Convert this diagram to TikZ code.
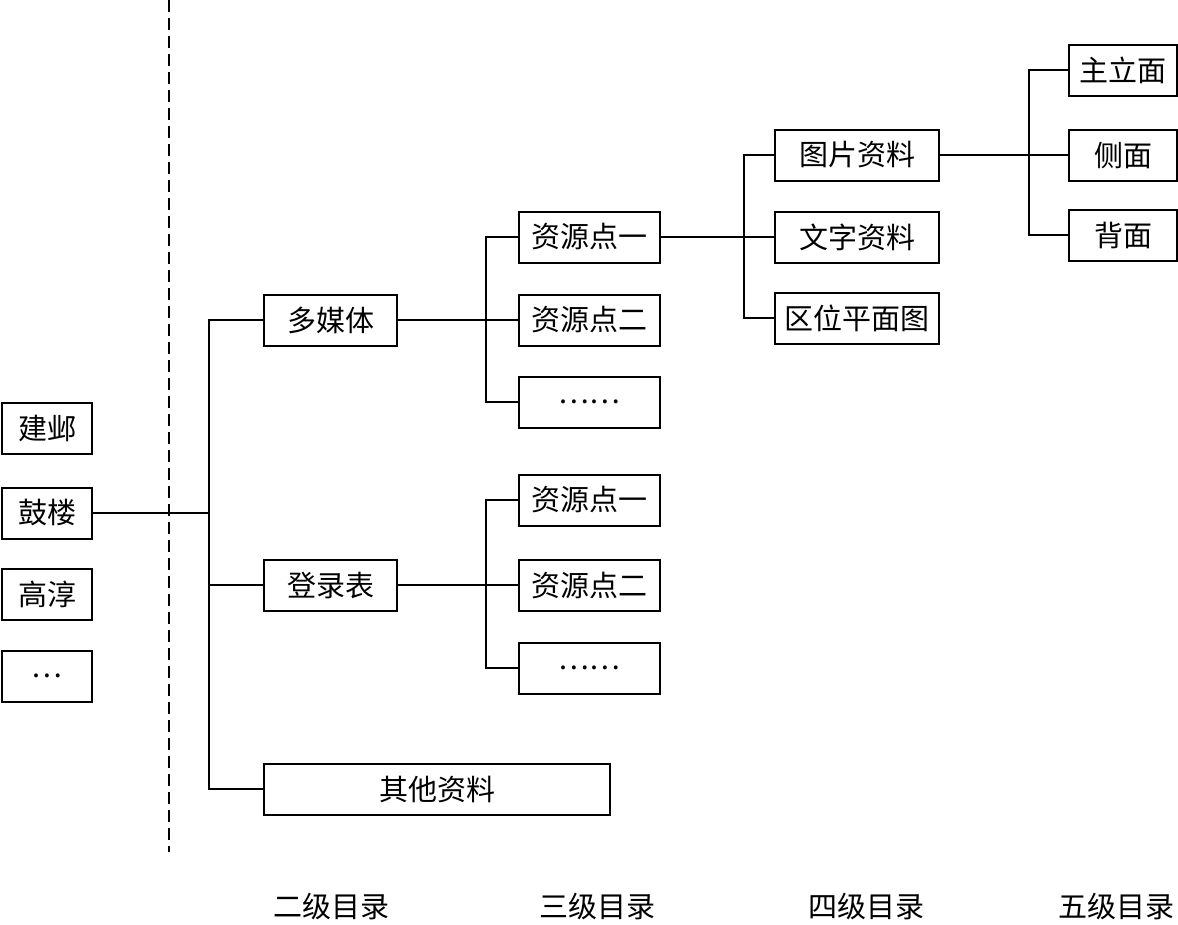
\documentclass[tikz,border=0pt]{standalone}
\usepackage{fontspec}
\newfontfamily\cjk{Noto Sans CJK SC}
\begin{document}
\begin{tikzpicture}[x=1pt,y=-1pt,line width=2pt,
  bx/.style={draw,line width=2pt,minimum height=51pt,inner sep=0pt,font=\cjk\fontsize{29}{31}\selectfont},
  lab/.style={font=\cjk\fontsize{29}{31}\selectfont,inner sep=0pt}]
\useasboundingbox (0,0) rectangle (1178,924);
% level 1
\node[bx,minimum width=90pt] (jy) at (47,428) {建邺};
\node[bx,minimum width=90pt] (gl) at (47,513) {鼓楼};
\node[bx,minimum width=90pt] (gc) at (47,594) {高淳};
\node[bx,minimum width=90pt] (d1) at (47,676) {…};
% dashed divider
\coordinate (dtop) at (169,0);
\coordinate (dbot) at (169,852);
\draw[dash pattern=on 12pt off 6pt] (dtop) -- (dbot);
% level 2
\node[bx,minimum width=133pt] (dmt) at (330.5,320) {多媒体};
\node[bx,minimum width=133pt] (dlb) at (330.5,585) {登录表};
\node[bx,minimum width=346pt] (qt) at (437,789) {其他资料};
% level 3
\node[bx,minimum width=141pt] (a1) at (589.5,237) {资源点一};
\node[bx,minimum width=141pt] (a2) at (589.5,320) {资源点二};
\node[bx,minimum width=141pt] (a3) at (589.5,402) {……};
\node[bx,minimum width=141pt] (b1) at (589.5,500) {资源点一};
\node[bx,minimum width=141pt] (b2) at (589.5,585) {资源点二};
\node[bx,minimum width=141pt] (b3) at (589.5,668) {……};
% level 4
\node[bx,minimum width=164pt] (c1) at (857,155) {图片资料};
\node[bx,minimum width=164pt] (c2) at (857,237) {文字资料};
\node[bx,minimum width=164pt] (c3) at (857,318) {区位平面图};
% level 5
\node[bx,minimum width=108pt] (e1) at (1123,70) {主立面};
\node[bx,minimum width=108pt] (e2) at (1123,155) {侧面};
\node[bx,minimum width=108pt] (e3) at (1123,235) {背面};
% junction columns
\coordinate (k1) at (209,0);
\coordinate (k2) at (486,0);
\coordinate (k3) at (744,0);
\coordinate (k4) at (1029,0);
% connectors level 1-2
\draw (gl.east) -- (gl.east -| k1);
\draw (dmt.west) -| (k1 |- qt.west) -- (qt.west);
\draw (dlb.west) -- (dlb.west -| k1);
% level 2-3
\draw (dmt.east) -- (a2.west);
\draw (a1.west) -| (k2 |- a3.west) -- (a3.west);
\draw (dlb.east) -- (b2.west);
\draw (b1.west) -| (k2 |- b3.west) -- (b3.west);
% level 3-4
\draw (a1.east) -- (c2.west);
\draw (c1.west) -| (k3 |- c3.west) -- (c3.west);
% level 4-5
\draw (c1.east) -- (e2.west);
\draw (e1.west) -| (k4 |- e3.west) -- (e3.west);
% bottom labels
\node[lab] (l2) at (331,906) {二级目录};
\node[lab] (l3) at (597,906) {三级目录};
\node[lab] (l4) at (866,906) {四级目录};
\node[lab] (l5) at (1116,906) {五级目录};
\end{tikzpicture}
\end{document}
